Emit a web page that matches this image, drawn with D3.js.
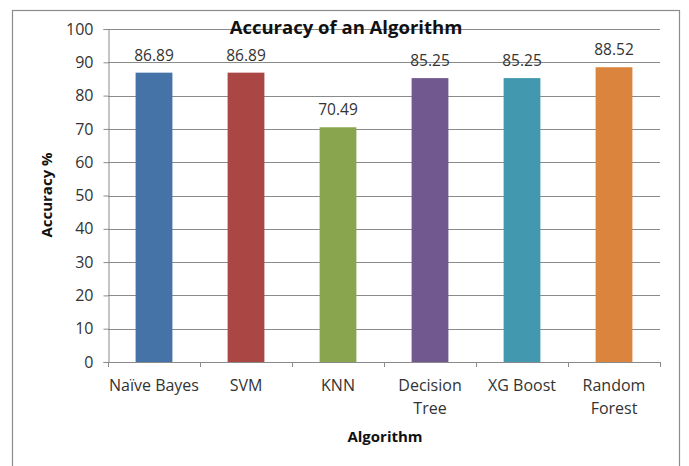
<!DOCTYPE html>
<html><head><meta charset="utf-8">
<script src="https://cdn.jsdelivr.net/npm/d3@7"></script>
<style>body{margin:0;background:#fff;} text{font-family:"Open Sans","Noto Sans",sans-serif;}</style>
</head><body><svg id="c" width="689" height="466"></svg>
<script>
const categories = [["Naïve Bayes"],["SVM"],["KNN"],["Decision","Tree"],["XG Boost"],["Random","Forest"]];
const values = [86.89, 86.89, 70.49, 85.25, 85.25, 88.52];
const colors = ["#4572A7","#AA4643","#89A54E","#71588F","#4198AF","#DB843D"];
const yTicks = [0,10,20,30,40,50,60,70,80,90,100];

const svg = d3.select("#c");
const m = {left:108, right:660, top:29, bottom:362};
svg.append("rect").attr("x",12.5).attr("y",10.5).attr("width",667).attr("height",470)
  .attr("fill","#fff").attr("stroke","#8c8c8c").attr("stroke-width",1.2);

const x = d3.scaleBand().domain(d3.range(categories.length)).range([m.left,m.right]).paddingInner(0.6).paddingOuter(0.3);
const y = d3.scaleLinear().domain([0,100]).range([m.bottom,m.top]);

// gridlines
svg.append("g").selectAll("line").data(yTicks.filter(d=>d>0)).join("line")
  .attr("x1",m.left).attr("x2",m.right).attr("y1",d=>Math.round(y(d))+0.5).attr("y2",d=>Math.round(y(d))+0.5)
  .attr("stroke","#8a8a8a").attr("stroke-width",1);

// y axis
const ya = svg.append("g").attr("transform",`translate(${m.left+0.5},0)`)
  .call(d3.axisLeft(y).tickValues(yTicks).tickSize(5).tickPadding(10));
ya.select(".domain").attr("stroke","#8a8a8a");
ya.selectAll(".tick line").attr("stroke","#8a8a8a");
ya.selectAll("text").attr("font-size",16).attr("fill","#333");

// bars
svg.append("g").selectAll("rect").data(values).join("rect")
  .attr("x",(d,i)=>x(i)).attr("width",x.bandwidth())
  .attr("y",d=>y(d)).attr("height",d=>y(0)-y(d)).attr("fill",(d,i)=>colors[i]);

// value labels
svg.append("g").selectAll("text").data(values).join("text")
  .attr("x",(d,i)=>x(i)+x.bandwidth()/2).attr("y",d=>y(d)-12)
  .attr("text-anchor","middle").attr("font-size",15.5).attr("fill","#333").text(d=>d.toFixed(2));

// x axis
const band = (m.right-m.left)/categories.length;
const xa = svg.append("g");
xa.append("line").attr("x1",m.left).attr("x2",m.right).attr("y1",m.bottom+0.5).attr("y2",m.bottom+0.5).attr("stroke","#8a8a8a");
xa.selectAll("line.t").data(d3.range(categories.length+1)).join("line").attr("class","t")
  .attr("x1",i=>Math.round(m.left+i*band)+0.5).attr("x2",i=>Math.round(m.left+i*band)+0.5)
  .attr("y1",m.bottom).attr("y2",m.bottom+5).attr("stroke","#8a8a8a");
xa.selectAll("text").data(categories).join("text")
  .attr("x",(d,i)=>x(i)+x.bandwidth()/2).attr("y",391)
  .attr("text-anchor","middle").attr("font-size",16).attr("fill","#333")
  .each(function(d){
    d3.select(this).selectAll("tspan").data(d).join("tspan")
      .attr("x",d3.select(this).attr("x")).attr("dy",(t,j)=>j?23:0).text(t=>t);
  });

// titles
svg.append("text").attr("x",346).attr("y",34).attr("text-anchor","middle")
  .attr("font-size",18.5).attr("font-weight","bold").attr("fill","#111").text("Accuracy of an Algorithm");
svg.append("text").attr("x",385).attr("y",442).attr("text-anchor","middle")
  .attr("font-size",15).attr("font-weight","bold").attr("fill","#111").text("Algorithm");
svg.append("text").attr("transform","translate(52,195) rotate(-90)").attr("text-anchor","middle")
  .attr("font-size",15).attr("font-weight","bold").attr("fill","#111").text("Accuracy %");
</script></body></html>
